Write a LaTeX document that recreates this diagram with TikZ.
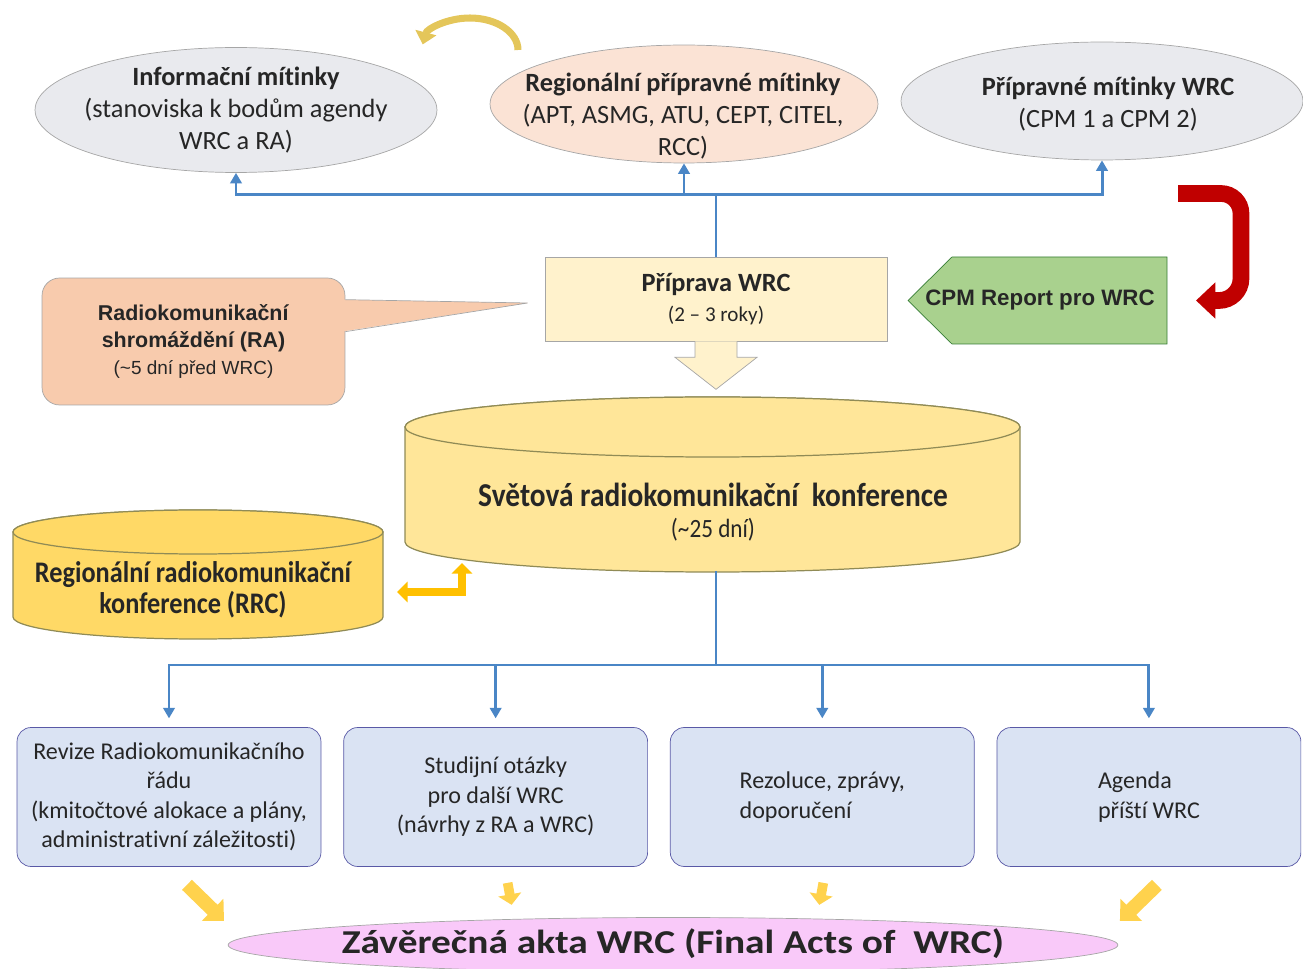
\documentclass[tikz,border=0pt]{standalone}
\usepackage{fontspec}
\setmainfont{Carlito}[Ligatures={TeX,NoCommon}]
\newfontfamily\arialfont{Liberation Sans}
\newfontfamily\widefont[FakeStretch=1.18,Ligatures={TeX,NoCommon}]{Carlito}
\newfontfamily\slimfont[FakeStretch=0.88,Ligatures={TeX,NoCommon}]{Carlito}
\usetikzlibrary{arrows.meta, positioning, shapes.geometric}

\definecolor{infoGray}{HTML}{E9EAEE}
\definecolor{regioPeach}{HTML}{FBE3D5}
\definecolor{prepFill}{HTML}{FFF2CC}
\definecolor{raFill}{HTML}{F8CBAD}
\definecolor{repGreen}{HTML}{A9D18E}
\definecolor{wrcFill}{HTML}{FFE699}
\definecolor{rrcFill}{HTML}{FFD966}
\definecolor{topicBlue}{HTML}{DAE3F3}
\definecolor{finPink}{HTML}{F9C9F9}
\definecolor{linkBlue}{HTML}{4A86C6}
\definecolor{arrowGold}{HTML}{FFC000}
\definecolor{curlGold}{HTML}{E4C65A}
\definecolor{softGold}{HTML}{FFD24D}
\definecolor{redArr}{HTML}{C00000}

\begin{document}
\begin{tikzpicture}[x=0.02cm, y=0.02cm, >={Triangle[length=6pt,width=6.5pt]},
        meet/.style={ellipse, draw=gray!70, inner sep=0pt},
        txt/.style={align=center, text=black!85, font=\fontsize{15}{18}\selectfont},
        link/.style={draw=linkBlue, line width=1.7pt},
        cyl/.style={draw=gray!60!olive, line width=0.7pt},
        topic/.style={rounded corners=8pt, draw=gray!70!blue, fill=topicBlue, minimum width=6.08cm,
                      minimum height=2.78cm, align=center, text=black!85, font=\fontsize{13.7}{16.8}\selectfont},
        bigarr/.style={draw=softGold, line width=8pt, -{Triangle[length=9pt,width=17pt]}},
        smallarr/.style={draw=softGold, line width=5.5pt, -{Triangle[length=6pt,width=13pt]}}]

  \useasboundingbox (0,0) rectangle (1303,-969);

  % preparatory meetings
  \node[meet, fill=infoGray, minimum width=8.04cm, minimum height=2.5cm] (info) at (236,-110) {};
  \node[meet, fill=regioPeach, minimum width=7.76cm, minimum height=2.36cm] (regio) at (684,-104) {};
  \node[meet, fill=infoGray, minimum width=8.04cm, minimum height=2.36cm] (cpm_m) at (1102,-101) {};
  \node[txt] (info_t) at (236,-110) {\textbf{Informační mítinky}\\(stanoviska k bodům agendy\\WRC a RA)};
  \node[txt] (regio_t) at (683,-116) {\textbf{Regionální přípravné mítinky}\\(APT, ASMG, ATU, CEPT, CITEL,\\RCC)};
  \node[txt] (cpm_t) at (1108,-104) {\textbf{Přípravné mítinky WRC}\\(CPM 1 a CPM 2)};

  \draw[draw=curlGold, line width=4pt, -{Triangle[length=7pt,width=12pt]}] (518,-50) arc (0:170:48 and 32);

  % preparation
  \node[txt, draw=gray!70, fill=prepFill, minimum width=6.84cm, minimum height=1.68cm] (prip) at (716,-299)
       {\textbf{Příprava WRC}\\[-1pt]{\fontsize{12}{14}\selectfont(2 – 3 roky)}};
  \draw[draw=gray!70, fill=prepFill] (prip.south) ++(-21,0) -- ++(0,-16) -- ++(-20,0) -- ++(41,-32)
        -- ++(41,32) -- ++(-20,0) -- ++(0,16);

  \draw[link] (prip.north) -- ++(0,62) coordinate (top_bus);
  \draw[link,->] (top_bus) -| (info.south);
  \draw[link,->] (top_bus) -| (regio.south);
  \draw[link,->] (top_bus) -| (cpm_m.south);

  % assembly callout
  \node[rounded corners=10pt, draw=gray!70, fill=raFill, minimum width=6.06cm, minimum height=2.54cm,
        align=center, text=black!85, font=\arialfont\fontsize{12.2}{15.4}\selectfont] (ra) at (193.5,-341.5)
       {\textbf{Radiokomunikační}\\\textbf{shromáždění (RA)}\\{\fontsize{10.8}{13}\selectfont(\textasciitilde5 dní před WRC)}};
  \coordinate (ra_tip) at ([shift={(-17,-4)}]prip.west);
  \fill[raFill] ([shift={(-4,-22)}]ra.north east) -- (ra_tip) -- ([shift={(-4,-54)}]ra.north east) -- cycle;
  \draw[gray!70] ([shift={(0,-22)}]ra.north east) -- (ra_tip) -- ([shift={(0,-54)}]ra.north east);

  % cpm report
  \draw[draw=gray!60!green!70!black, fill=repGreen] (908,-300.5) -- (952,-257) -- (1167,-257)
        -- (1167,-344) -- (952,-344) -- cycle;
  \node[font=\arialfont\bfseries\fontsize{12.7}{15}\selectfont, text=black!85] (rep) at (1040,-300.5) {CPM Report pro WRC};
  \coordinate (rep_port) at (1196,-300.5);
  \draw[draw=redArr, line width=9.5pt, -{Triangle[length=11pt,width=20pt]}] (1178,-193.5) -- ++(43,0)
        arc (90:0:20) -- ++(0,-65) arc (0:-90:22) -- (rep_port);

  % conferences
  \draw[cyl, fill=wrcFill] (405,-427) -- (405,-542) arc (180:360:307.5 and 30) -- (1020,-427)
        arc (0:180:307.5 and 30) -- cycle;
  \draw[cyl, fill=wrcFill] (712.5,-427) ellipse (307.5 and 30);
  \node[txt, font=\slimfont\bfseries\fontsize{19}{22}\selectfont] (wrc) at (713,-512)
       {Světová radiokomunikační\ \ konference\\[-4pt]{\mdseries\fontsize{15}{18}\selectfont(\textasciitilde25 dní)}};
  \coordinate (wrc_bot) at (716,-571);

  \draw[cyl, fill=rrcFill] (13,-532) -- (13,-617) arc (180:360:185 and 22) -- (383,-532)
        arc (0:180:185 and 22) -- cycle;
  \draw[cyl, fill=rrcFill] (198,-532) ellipse (185 and 22);
  \node[txt, font=\slimfont\bfseries\fontsize{17}{17.5}\selectfont] (rrc) at (193,-590)
       {Regionální radiokomunikační\\konference (RRC)};

  \coordinate (rrc_port) at (397,-592);
  \coordinate (wrc_port) at (462,-563);
  \draw[draw=arrowGold, line width=4.5pt, {Triangle[length=6pt,width=11.5pt]}-{Triangle[length=6pt,width=11.5pt]}]
        (rrc_port) -| (wrc_port);

  % outcomes
  \node[topic] (b1) at (169,-797) {Revize Radiokomunikačního\\řádu\\(kmitočtové alokace a plány,\\administrativní záležitosti)};
  \node[topic, right=0.44cm of b1] (b2) {Studijní otázky\\pro další WRC\\(návrhy z RA a WRC)};
  \node[topic, right=0.44cm of b2, align=left] (b3) {Rezoluce, zprávy,\\doporučení};
  \node[topic, right=0.44cm of b3, align=left] (b4) {Agenda\\příští WRC};

  \draw[link] (wrc_bot) -- ++(0,-94) coordinate (bot_bus);
  \foreach \b in {b1,b2,b3,b4}
    \draw[link,->,shorten >=5pt] (bot_bus) -| (\b.north);

  \node[meet, fill=finPink, minimum width=17.8cm, minimum height=1.1cm] (fin) at (673,-945) {};
  \node[font=\widefont\bfseries\fontsize{19}{23}\selectfont, text=black!85] (fin_t) at (673,-944)
       {Závěrečná akta WRC (Final Acts of\ \ WRC)};

  \draw[bigarr] ([shift={(18,-18)}]b1.south) -- ++(37,-36);
  \draw[smallarr] ([shift={(12,-16)}]b2.south) -- ++(4,-22);
  \draw[smallarr] ([shift={(1,-16)}]b3.south) -- ++(-4,-22);
  \draw[bigarr] ([shift={(8,-18)}]b4.south) -- ++(-37,-36);
\end{tikzpicture}
\end{document}
